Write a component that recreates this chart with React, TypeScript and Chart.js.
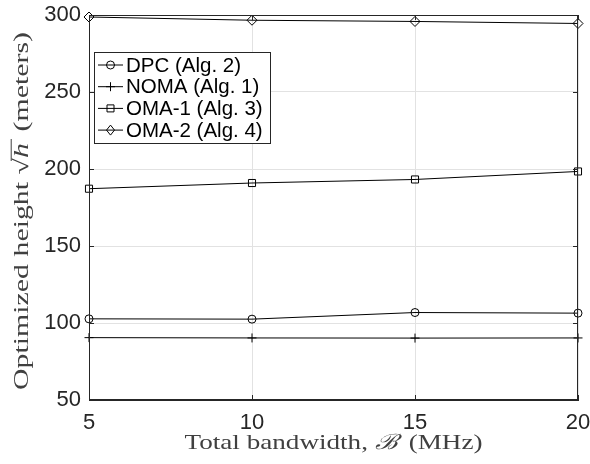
import React, { useEffect, useRef } from 'react';
import { Chart, registerables } from 'chart.js';

Chart.register(...registerables);

// ---- data ----
const BANDWIDTH_MHZ = [5, 10, 15, 20];
const DPC_HEIGHT = [102.7, 102.5, 106.8, 106.4];
const NOMA_HEIGHT = [90.5, 90.3, 90.2, 90.3];
const OMA1_HEIGHT = [187.2, 190.9, 193.2, 198.4];
const OMA2_HEIGHT = [298.7, 296.6, 295.8, 294.5];
const SERIES_LABELS = ['DPC (Alg. 2)', 'NOMA (Alg. 1)', 'OMA-1 (Alg. 3)', 'OMA-2 (Alg. 4)'];
const SERIES_MARKERS = ['circle', 'cross', 'rect', 'rectRot'];
const X_MIN = 5;
const X_MAX = 20;
const X_STEP = 5;
const Y_MIN = 50;
const Y_MAX = 300;
const Y_STEP = 50;
const X_TITLE = ['Total bandwidth, ', 'ℬ', ' (MHz)'];
const Y_TITLE = ['Optimized height ', '√', 'h', ' (meters)'];

const INK = '#262626';
const TITLE_INK = '#404040';
const GRID = '#e2e2e2';
const SANS = '"Liberation Sans", Arial, Helvetica, sans-serif';
const SERIF = '"Liberation Serif", "DejaVu Serif", serif';

function drawMarker(ctx: CanvasRenderingContext2D, style: string, x: number, y: number) {
  ctx.beginPath();
  if (style === 'circle') {
    ctx.arc(x, y, 4, 0, Math.PI * 2);
  } else if (style === 'cross') {
    ctx.moveTo(x - 4.5, y);
    ctx.lineTo(x + 4.5, y);
    ctx.moveTo(x, y - 4.5);
    ctx.lineTo(x, y + 4.5);
  } else if (style === 'rect') {
    ctx.rect(x - 3.5, y - 3.5, 7, 7);
  } else {
    ctx.moveTo(x, y - 5);
    ctx.lineTo(x + 4, y);
    ctx.lineTo(x, y + 5);
    ctx.lineTo(x - 4, y);
    ctx.closePath();
  }
  ctx.stroke();
}

// draw a multi-part title, stretched to a target width, centered at (0,0) baseline
function drawTitle(
  ctx: CanvasRenderingContext2D,
  parts: string[],
  italicIdx: number[],
  overlineIdx: number,
  size: number,
  targetWidth: number
) {
  const fonts = parts.map((_, i) => (italicIdx.includes(i) ? 'italic ' : '') + size + 'px ' + SERIF);
  const widths = parts.map((p, i) => {
    ctx.font = fonts[i];
    return ctx.measureText(p).width + (italicIdx.includes(i) ? 3 : 0);
  });
  const total = widths.reduce((a, b) => a + b, 0);
  const s = targetWidth / total;
  ctx.save();
  ctx.scale(s, 1);
  let x = -total / 2;
  ctx.fillStyle = TITLE_INK;
  ctx.strokeStyle = TITLE_INK;
  ctx.textBaseline = 'alphabetic';
  ctx.textAlign = 'left';
  parts.forEach((p, i) => {
    ctx.font = fonts[i];
    ctx.fillText(p, x, 0);
    if (i === overlineIdx) {
      ctx.lineWidth = 1;
      ctx.beginPath();
      ctx.moveTo(x - 2, -size * 0.8);
      ctx.lineTo(x + widths[i], -size * 0.8);
      ctx.stroke();
    }
    x += widths[i];
  });
  ctx.restore();
}

const decorPlugin = {
  id: 'decor',
  afterDraw(chart: any) {
    const ctx: CanvasRenderingContext2D = chart.ctx;
    const { left, right, top, bottom } = chart.chartArea;
    const xs = chart.scales.x;
    const ys = chart.scales.y;
    ctx.save();
    ctx.strokeStyle = INK;
    ctx.lineWidth = 1;
    // frame
    ctx.strokeRect(left + 0.5, top + 0.5, right - left - 1, bottom - top - 1);
    // inner ticks
    ctx.beginPath();
    for (let v = X_MIN; v <= X_MAX; v += X_STEP) {
      const px = Math.round(xs.getPixelForValue(v)) + 0.5;
      ctx.moveTo(px, bottom);
      ctx.lineTo(px, bottom - 5);
      ctx.moveTo(px, top);
      ctx.lineTo(px, top + 5);
    }
    for (let v = Y_MIN; v <= Y_MAX; v += Y_STEP) {
      const py = Math.round(ys.getPixelForValue(v)) + 0.5;
      ctx.moveTo(left, py);
      ctx.lineTo(left + 5, py);
      ctx.moveTo(right, py);
      ctx.lineTo(right - 5, py);
    }
    ctx.stroke();

    // legend
    const lx = 94.5;
    const ly = 52.5;
    const lw = 176;
    const lh = 91;
    ctx.fillStyle = '#ffffff';
    ctx.fillRect(lx, ly, lw, lh);
    ctx.strokeStyle = INK;
    ctx.strokeRect(lx, ly, lw, lh);
    ctx.font = '20.5px ' + SANS;
    ctx.textBaseline = 'middle';
    ctx.textAlign = 'left';
    chart.data.datasets.forEach((ds: any, i: number) => {
      const ry = 65 + i * 21.7;
      ctx.strokeStyle = '#000';
      ctx.beginPath();
      ctx.moveTo(98, ry);
      ctx.lineTo(123, ry);
      ctx.stroke();
      drawMarker(ctx, SERIES_MARKERS[i], 110.5, ry);
      ctx.fillStyle = '#000';
      ctx.fillText(ds.label, 126, ry + 1);
    });

    // x title
    ctx.save();
    ctx.translate((left + right) / 2, 449);
    drawTitle(ctx, X_TITLE, [1], -1, 21, 298);
    ctx.restore();
    // y title
    ctx.save();
    ctx.translate(28, 211);
    ctx.rotate(-Math.PI / 2);
    drawTitle(ctx, Y_TITLE, [2], 2, 21, 358);
    ctx.restore();
    ctx.restore();
  },
};

export default function App() {
  const ref = useRef<HTMLCanvasElement | null>(null);
  useEffect(() => {
    if (!ref.current) return;
    const mk = (label: string, data: number[], style: string, radius: number) => ({
      label,
      data: BANDWIDTH_MHZ.map((x, i) => ({ x, y: data[i] })),
      borderColor: '#000',
      borderWidth: 1,
      pointStyle: style,
      pointRadius: radius,
      pointBorderWidth: 1,
      pointBorderColor: '#000',
      pointBackgroundColor: 'rgba(0,0,0,0)',
      tension: 0,
      fill: false,
    });
    const chart = new Chart(ref.current, {
      type: 'line',
      data: {
        datasets: [
          mk(SERIES_LABELS[0], DPC_HEIGHT, SERIES_MARKERS[0], 4),
          mk(SERIES_LABELS[1], NOMA_HEIGHT, SERIES_MARKERS[1], 4.5),
          mk(SERIES_LABELS[2], OMA1_HEIGHT, SERIES_MARKERS[2], 5),
          mk(SERIES_LABELS[3], OMA2_HEIGHT, SERIES_MARKERS[3], 5),
        ],
      },
      options: {
        responsive: false,
        animation: false,
        clip: false as any,
        layout: { padding: { top: 15, right: 12, left: 0, bottom: 0 } },
        plugins: { legend: { display: false }, tooltip: { enabled: false } },
        scales: {
          x: {
            type: 'linear',
            min: X_MIN,
            max: X_MAX,
            ticks: { stepSize: X_STEP, color: INK, font: { family: SANS, size: 22 }, padding: 10, maxRotation: 0 },
            grid: { color: GRID, drawTicks: false },
            border: { display: true, color: INK },
            afterFit: (s: any) => {
              s.height = 64;
              s.paddingLeft = 0;
              s.paddingRight = 0;
            },
          },
          y: {
            type: 'linear',
            min: Y_MIN,
            max: Y_MAX,
            ticks: { stepSize: Y_STEP, color: INK, font: { family: SANS, size: 22 }, padding: 8 },
            grid: { color: GRID, drawTicks: false },
            border: { display: true, color: INK },
            afterFit: (s: any) => {
              s.width = 89;
              s.paddingTop = 0;
              s.paddingBottom = 0;
            },
          },
        },
      },
      plugins: [decorPlugin],
    });
    return () => chart.destroy();
  }, []);
  return (
    <div style={{ position: 'absolute', left: 0, top: 0, width: 590, height: 464, background: '#fff' }}>
      <canvas ref={ref} width={590} height={464} style={{ width: 590, height: 464 }} />
    </div>
  );
}
